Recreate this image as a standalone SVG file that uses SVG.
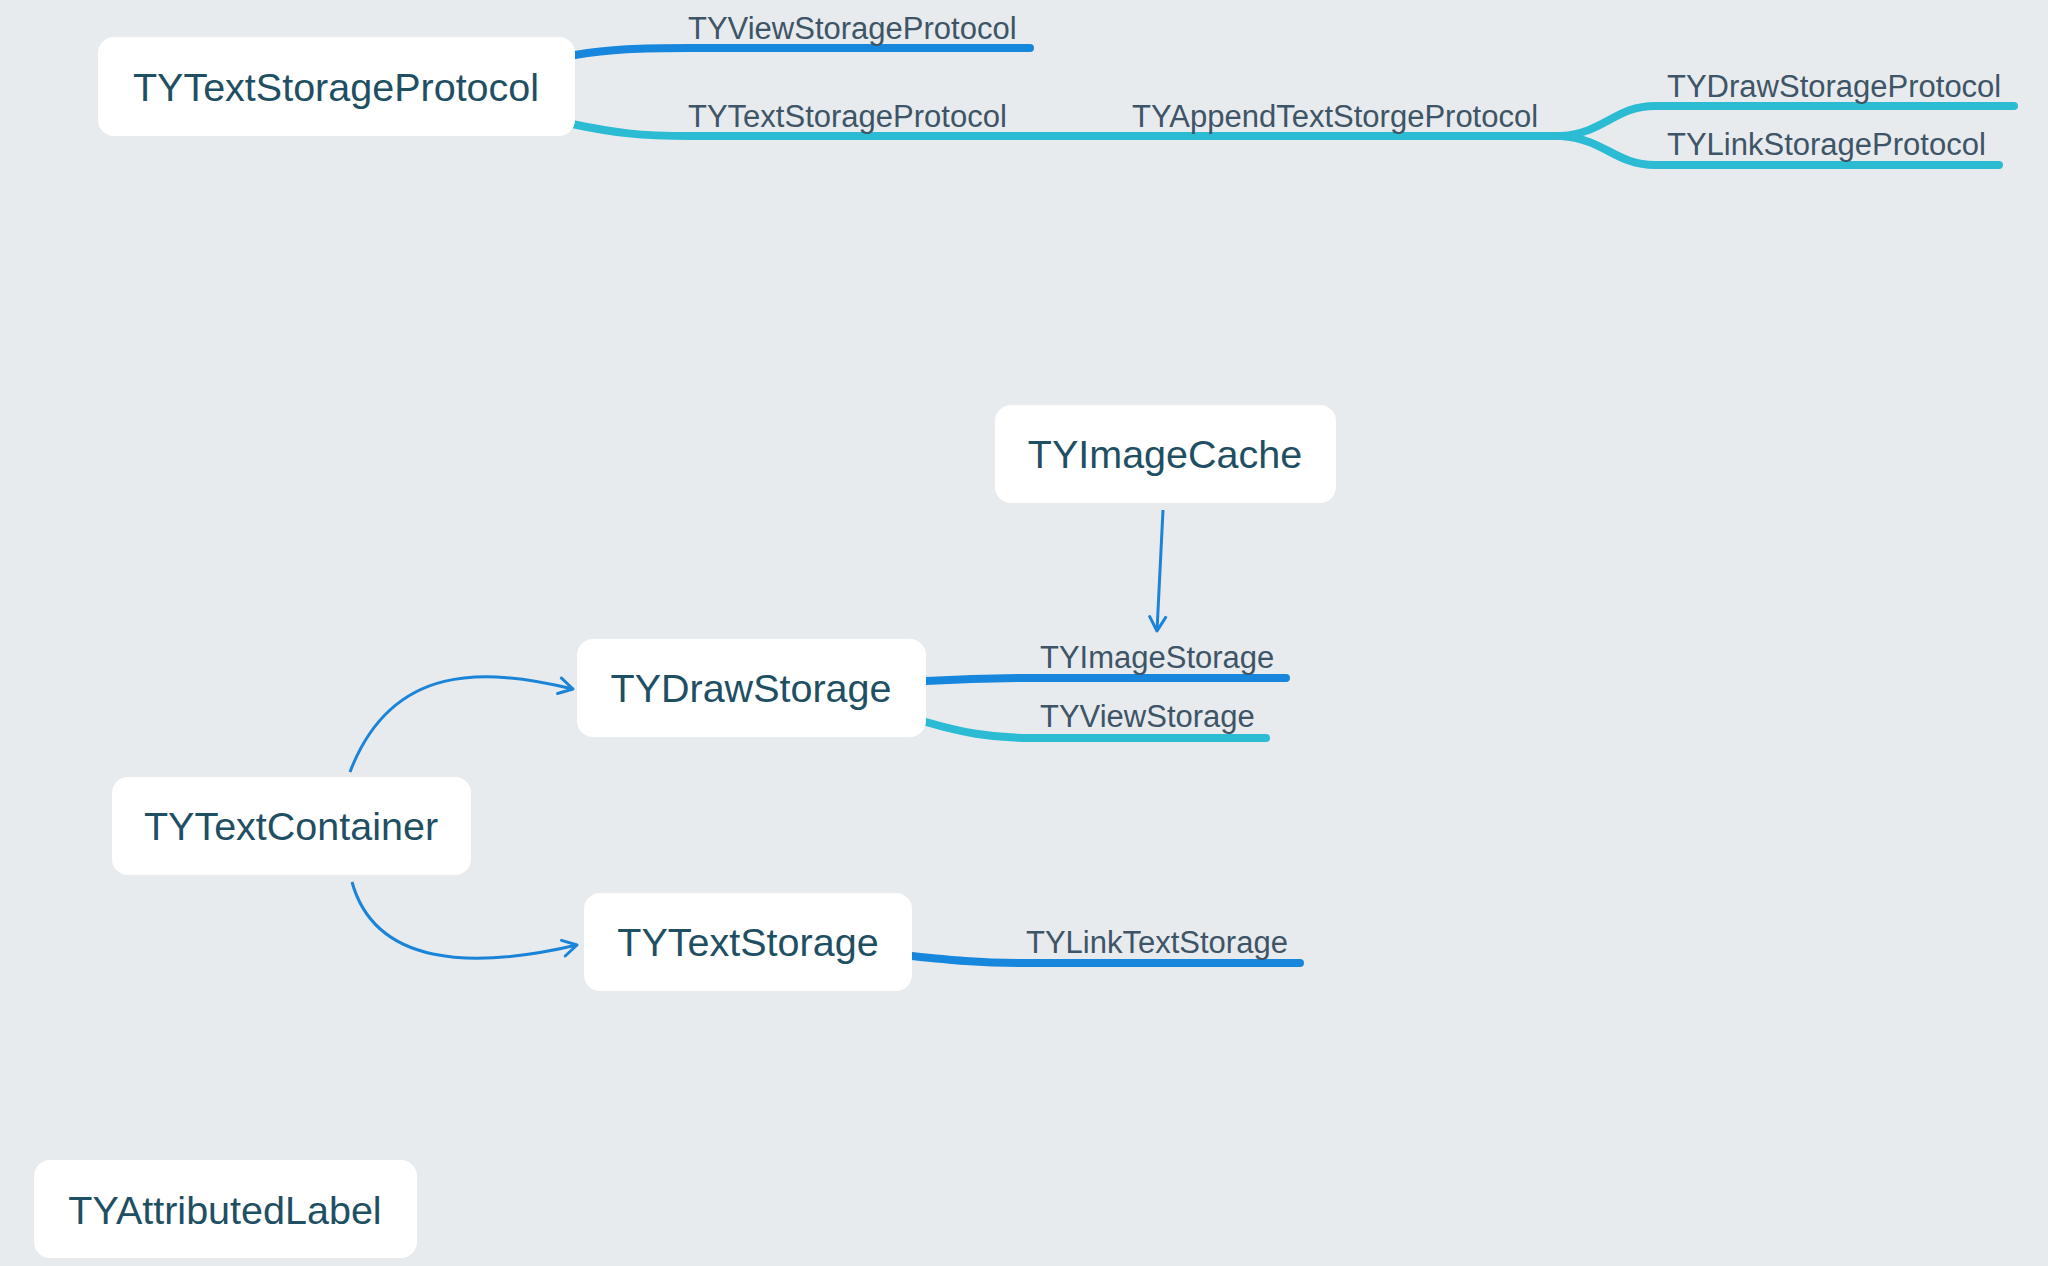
<svg xmlns="http://www.w3.org/2000/svg" width="2048" height="1266" viewBox="0 0 2048 1266">
<defs>
<style>
.node rect{fill:#ffffff}
.node text{font-family:"Liberation Sans",Arial,sans-serif;font-size:39.5px;fill:#1f4f63;text-anchor:middle}
.lbl{font-family:"Liberation Sans",Arial,sans-serif;font-size:31px;fill:#3d5566}
.b{fill:none;stroke:#1787dd;stroke-width:8;stroke-linecap:round}
.c{fill:none;stroke:#2bbcd4;stroke-width:8;stroke-linecap:round}
.arr{fill:none;stroke:#1a84d8;stroke-width:3;marker-end:url(#ah)}
</style>
<marker id="ah" viewBox="0 0 20 20" refX="18" refY="10" markerWidth="20" markerHeight="20" markerUnits="userSpaceOnUse" orient="auto">
<path d="M4,2 L18,10 L4,18" fill="none" stroke="#1a84d8" stroke-width="3" stroke-linecap="round" stroke-linejoin="round"/>
</marker>
</defs>
<rect width="2048" height="1266" fill="#e8ebee"/>
<g id="connectors">
<path class="b" d="M575,55 C610,49 640,48 690,48 L1030,48"/>
<path class="c" d="M572,124 C615,133 640,136 690,136 L1561,136"/>
<path class="c" d="M1561,136 C1605,133 1615,106 1655,106 L2014,106"/>
<path class="c" d="M1561,136 C1605,139 1615,165 1655,165 L1999,165"/>
<path class="b" d="M926,681 C960,679 990,678 1030,678 L1286,678"/>
<path class="c" d="M926,722 C960,732 990,738 1030,738 L1266,738"/>
<path class="b" d="M912,956 C950,960 980,963 1020,963 L1300,963"/>
<path class="arr" d="M1163,510 L1157,631"/>
<path class="arr" d="M350,772 C392,662 485,668 573,689"/>
<path class="arr" d="M352,882 C375,965 470,970 577,945"/>
<text class="lbl" x="688" y="39">TYViewStorageProtocol</text>
<text class="lbl" x="688" y="127">TYTextStorageProtocol</text>
<text class="lbl" x="1132" y="127">TYAppendTextStorgeProtocol</text>
<text class="lbl" x="1667" y="97">TYDrawStorageProtocol</text>
<text class="lbl" x="1667" y="155">TYLinkStorageProtocol</text>
<text class="lbl" x="1040" y="668">TYImageStorage</text>
<text class="lbl" x="1040" y="727">TYViewStorage</text>
<text class="lbl" x="1026" y="953">TYLinkTextStorage</text>
</g>
<g id="n-textstorageprotocol" class="node"><rect x="98" y="37" width="477" height="99" rx="16"/><text x="336" y="101">TYTextStorageProtocol</text></g>
<g id="n-imagecache" class="node"><rect x="995" y="405" width="341" height="98" rx="16"/><text x="1165" y="468">TYImageCache</text></g>
<g id="n-drawstorage" class="node"><rect x="577" y="639" width="349" height="98" rx="16"/><text x="751" y="702">TYDrawStorage</text></g>
<g id="n-textcontainer" class="node"><rect x="112" y="777" width="359" height="98" rx="16"/><text x="291" y="840">TYTextContainer</text></g>
<g id="n-textstorage" class="node"><rect x="584" y="893" width="328" height="98" rx="16"/><text x="748" y="956">TYTextStorage</text></g>
<g id="n-attributedlabel" class="node"><rect x="34" y="1160" width="383" height="98" rx="16"/><text x="225" y="1224">TYAttributedLabel</text></g>
</svg>
